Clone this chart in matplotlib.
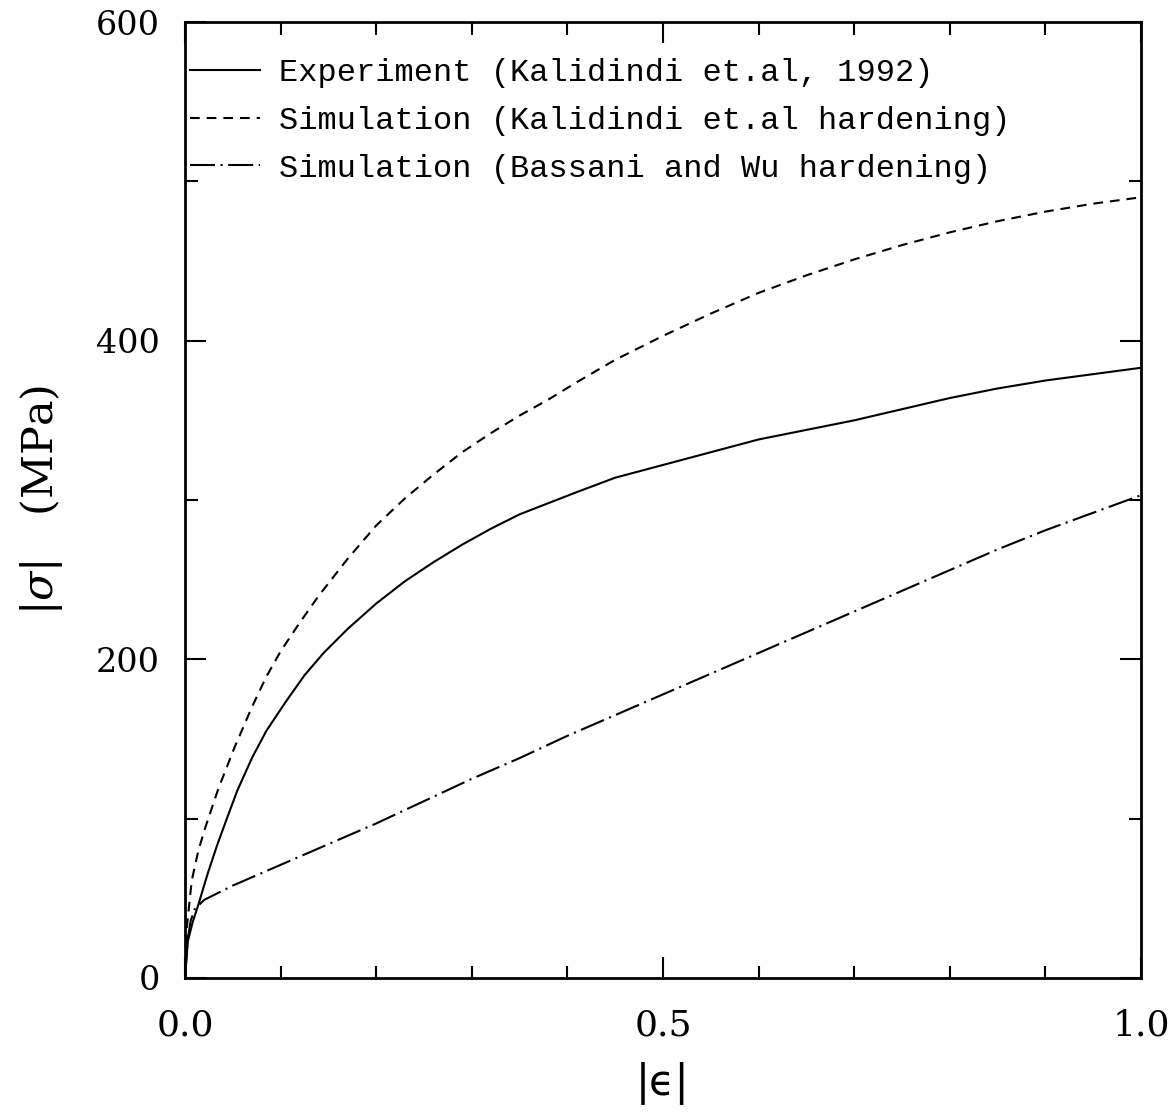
import matplotlib
matplotlib.use("Agg")
import matplotlib.pyplot as plt
from matplotlib.ticker import MultipleLocator, FormatStrFormatter

# values
eps_exp = [0, 0.003, 0.008, 0.014, 0.024, 0.034, 0.045, 0.055, 0.07, 0.085, 0.105, 0.125,
           0.145, 0.17, 0.2, 0.23, 0.26, 0.29, 0.32, 0.35, 0.38, 0.41, 0.45, 0.5,
           0.55, 0.6, 0.65, 0.7, 0.75, 0.8, 0.85, 0.9, 0.95, 1.0]
sig_exp = [0, 23, 35, 46, 66, 84, 102, 118, 138, 155, 173, 190,
           204, 219, 235, 249, 261, 272, 282, 291, 298, 305, 314, 322,
           330, 338, 344, 350, 357, 364, 370, 375, 379, 383]

eps_kal = [0, 0.002, 0.007, 0.014, 0.021, 0.035, 0.052, 0.07, 0.085, 0.1, 0.12, 0.14,
           0.17, 0.2, 0.23, 0.26, 0.29, 0.32, 0.35, 0.38, 0.41, 0.45, 0.5, 0.55,
           0.6, 0.65, 0.7, 0.75, 0.8, 0.85, 0.9, 0.95, 1.0]
sig_kal = [0, 32, 61, 80, 94, 119, 145, 170, 189, 205, 223, 240,
           263, 284, 301, 316, 330, 342, 353, 363, 374, 388, 403, 417,
           430, 441, 451, 460, 468, 475, 481, 486, 490]

eps_bw = [0, 0.003, 0.006, 0.01, 0.02, 0.05, 0.1, 0.15, 0.2, 0.25, 0.3, 0.35, 0.4,
          0.45, 0.5, 0.55, 0.6, 0.65, 0.7, 0.75, 0.8, 0.85, 0.9, 0.95, 1.0]
sig_bw = [0, 25, 36, 43, 49, 58, 71, 84, 97, 111, 125, 138, 152,
          165, 178, 191, 204, 217, 230, 243, 256, 269, 281, 292, 303]

labels = ['Experiment (Kalidindi et.al, 1992)',
          'Simulation (Kalidindi et.al hardening)',
          'Simulation (Bassani and Wu hardening)']

plt.rcParams['font.family'] = 'DejaVu Serif'
plt.rcParams['mathtext.fontset'] = 'dejavuserif'
plt.rcParams['lines.scale_dashes'] = False

fig = plt.figure(figsize=(11.76, 11.13), dpi=100)
ax = fig.add_axes([0.1573, 0.1213, 0.8129, 0.8589])

lw = 1.5
ax.plot(eps_exp, sig_exp, color='black', lw=lw, linestyle='-', label=labels[0])
ax.plot(eps_kal, sig_kal, color='black', lw=lw, linestyle=(0, (7, 5)), label=labels[1])
ax.plot(eps_bw, sig_bw, color='black', lw=lw, linestyle=(0, (18, 4, 1.5, 4)), label=labels[2])

ax.set_xlim(0, 1)
ax.set_ylim(0, 600)
ax.xaxis.set_major_locator(MultipleLocator(0.5))
ax.xaxis.set_minor_locator(MultipleLocator(0.1))
ax.yaxis.set_major_locator(MultipleLocator(200))
ax.yaxis.set_minor_locator(MultipleLocator(100))
ax.xaxis.set_major_formatter(FormatStrFormatter('%.1f'))

ax.tick_params(which='both', direction='in', top=True, right=True, width=1.5, colors='black')
ax.tick_params(which='major', length=15)
ax.tick_params(which='minor', length=9)
ax.tick_params(axis='x', labelsize=26, pad=22)
ax.tick_params(axis='y', labelsize=24, pad=18)
for s in ax.spines.values():
    s.set_linewidth(2)

ax.set_xlabel('|\u03f5|', fontsize=30, labelpad=14, family='DejaVu Sans')
ax.set_ylabel(r'$|\sigma|$   (MPa)', fontsize=31, labelpad=22)

leg = ax.legend(loc='upper left', frameon=False, prop={'family': 'Liberation Mono', 'size': 23},
                handlelength=2.2, handletextpad=0.6, labelspacing=0.55,
                borderaxespad=0.0, borderpad=0.0,
                bbox_to_anchor=(0.005, 0.962))

fig.savefig('out.png', dpi=100)
